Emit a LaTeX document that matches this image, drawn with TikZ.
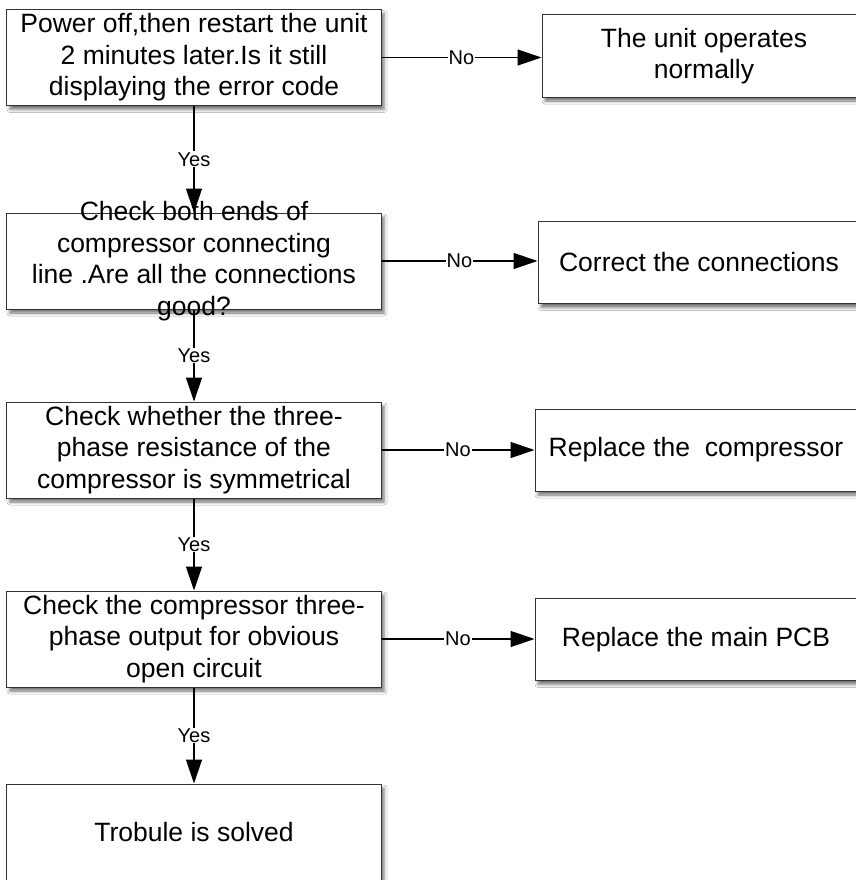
\documentclass[tikz,border=0pt]{standalone}
\usepackage{fontspec}
\setmainfont{Liberation Sans}
\usetikzlibrary{arrows.meta,shadows.blur}
\tikzset{
  flowbox/.style={draw=black!80, line width=1bp, fill=white, rectangle, inner sep=0pt,
    blur shadow={shadow xshift=3bp, shadow yshift=-4bp, shadow blur radius=3bp, shadow opacity=55}},
  leftbox/.style={flowbox, minimum width=374bp, minimum height=96bp},
  rightbox/.style={flowbox, minimum width=322bp, minimum height=82bp},
  boxtext/.style={align=center, inner sep=0pt, font=\fontsize{26.5bp}{31.5bp}\selectfont},
  conn/.style={line width=1.3bp, -{Triangle[length=24bp,width=16bp]}},
  lbl/.style={fill=white, inner sep=1bp, font=\fontsize{20bp}{22bp}\selectfont}
}
\begin{document}
\begin{tikzpicture}[x=1bp,y=-1bp]
\path[use as bounding box, clip] (0,0) rectangle (856,880);
\fill[white] (0,0) rectangle (856,880);

% left column boxes
\node[leftbox] (b1) at (194,57.5) {};
\node[boxtext] (t1) at (b1) {Power off,then restart the unit\\2 minutes later.Is it still\\displaying the error code};
\node[leftbox] (b2) at (194,261) {};
\node[leftbox] (b3) at (194,450) {};
\node[boxtext] (t3) at (b3) {Check whether the three-\\phase resistance of the\\compressor is symmetrical};
\node[leftbox] (b4) at (194,639) {};
\node[boxtext] (t4) at (b4) {Check the compressor three-\\phase output for obvious\\open circuit};
\node[leftbox] (b5) at (194,832) {};
\node[boxtext] (t5) at (b5) {Trobule is solved};

% right column boxes
\node[rightbox, minimum width=324bp] (r1) at (704,56) {};
\node[boxtext] (u1) at (r1) {The unit operates\\normally};
\node[rightbox] (r2) at (699,262.5) {};
\node[boxtext] (u2) at (r2) {Correct the connections};
\node[rightbox] (r3) at (696,450) {};
\node[boxtext] (u3) at (r3) {Replace the\ \ compressor};
\node[rightbox] (r4) at (696,639.5) {};
\node[boxtext] (u4) at (r4) {Replace the main PCB};

% vertical connectors
\draw[conn] (b1.south) -- node[lbl] {Yes} (b2.north);
\draw[conn] (b2.south) -- node[lbl] {Yes} (b3.north);
\draw[conn] (b3.south) -- node[lbl] {Yes} (b4.north);
\draw[conn] (b4.south) -- node[lbl] {Yes} (b5.north);

% horizontal connectors
\draw[conn] (b1.east) -- node[lbl] {No} (b1.east -| r1.west);
\draw[conn] (b2.east) -- node[lbl] {No} (b2.east -| r2.west);
\draw[conn] (b3.east) -- node[lbl] {No} (b3.east -| r3.west);
\draw[conn] (b4.east) -- node[lbl] {No} (b4.east -| r4.west);

% overflowing text of box 2 drawn on top
\node[boxtext] (t2) at (b2) {Check both ends of\\compressor connecting\\line .Are all the connections\\good?};
\end{tikzpicture}
\end{document}
